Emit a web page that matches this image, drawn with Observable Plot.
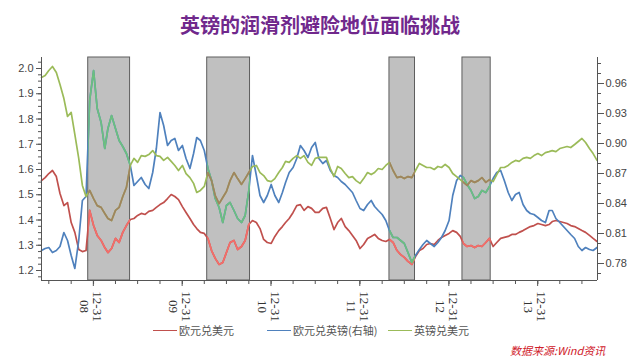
<!DOCTYPE html>
<html><head><meta charset="utf-8">
<script src="https://cdn.jsdelivr.net/npm/d3@7"></script>
<script src="https://cdn.jsdelivr.net/npm/@observablehq/plot@0.6"></script>
<style>
body{margin:0;background:#fff;width:640px;height:359px;overflow:hidden;position:relative;font-family:"Noto Sans CJK SC",sans-serif;}
#title{position:absolute;left:0;width:640px;top:11px;text-align:center;font-size:20px;font-weight:bold;color:#70288c;line-height:28px;}
#chart{position:absolute;left:0;top:45px;}
.lg{position:absolute;font-size:11px;color:#555;line-height:14px;white-space:nowrap;}
.sw{position:absolute;height:0;width:24px;border-top:1.6px solid;}
#src{position:absolute;left:510px;top:342px;font-size:11px;font-style:italic;color:#d0202a;white-space:nowrap;}
</style></head><body>
<div id="title">英镑的润滑剂避险地位面临挑战</div>
<div id="chart"></div>
<div id="legend"></div>
<div id="src">数据来源:Wind资讯</div>
<script>
// ---------------- data ----------------
const dates = [
"2008-06-01","2008-06-16","2008-07-01","2008-07-16","2008-08-01","2008-08-16","2008-09-01","2008-09-16","2008-10-01","2008-10-16","2008-11-01","2008-11-16","2008-12-01","2008-12-16",
"2009-01-01","2009-01-16","2009-02-01","2009-02-16","2009-03-01","2009-03-16","2009-04-01","2009-04-16","2009-05-01","2009-05-16","2009-06-01","2009-06-16","2009-07-01","2009-07-16","2009-08-01","2009-08-16","2009-09-01","2009-09-16","2009-10-01","2009-10-16","2009-11-01","2009-11-16","2009-12-01","2009-12-16",
"2010-01-01","2010-01-16","2010-02-01","2010-02-16","2010-03-01","2010-03-16","2010-04-01","2010-04-16","2010-05-01","2010-05-16","2010-06-01","2010-06-16","2010-07-01","2010-07-16","2010-08-01","2010-08-16","2010-09-01","2010-09-16","2010-10-01","2010-10-16","2010-11-01","2010-11-16","2010-12-01","2010-12-16",
"2011-01-01","2011-01-16","2011-02-01","2011-02-16","2011-03-01","2011-03-16","2011-04-01","2011-04-16","2011-05-01","2011-05-16","2011-06-01","2011-06-16","2011-07-01","2011-07-16","2011-08-01","2011-08-16","2011-09-01","2011-09-16","2011-10-01","2011-10-16","2011-11-01","2011-11-16","2011-12-01","2011-12-16",
"2012-01-01","2012-01-16","2012-02-01","2012-02-16","2012-03-01","2012-03-16","2012-04-01","2012-04-16","2012-05-01","2012-05-16","2012-06-01","2012-06-16","2012-07-01","2012-07-16","2012-08-01","2012-08-16","2012-09-01","2012-09-16","2012-10-01","2012-10-16","2012-11-01","2012-11-16","2012-12-01","2012-12-16",
"2013-01-01","2013-01-16","2013-02-01","2013-02-16","2013-03-01","2013-03-16","2013-04-01","2013-04-16","2013-05-01","2013-05-16","2013-06-01","2013-06-16","2013-07-01","2013-07-16","2013-08-01","2013-08-16","2013-09-01","2013-09-16","2013-10-01","2013-10-16","2013-11-01","2013-11-16","2013-12-01","2013-12-16",
"2014-01-01","2014-01-16","2014-02-01","2014-02-16","2014-03-01","2014-03-16","2014-04-01","2014-04-16","2014-05-01","2014-05-16","2014-06-01","2014-06-16","2014-07-01","2014-07-16","2014-08-01","2014-08-16","2014-09-01"];

// 欧元兑美元 (left axis)
const eurusd = [
1.556,1.568,1.584,1.596,1.572,1.505,1.457,1.469,1.390,1.351,1.283,1.275,1.279,
1.438,1.378,1.339,1.319,1.291,1.271,1.287,1.327,1.311,1.351,1.378,1.402,
1.406,1.418,1.426,1.422,1.434,1.438,1.450,1.461,1.469,1.485,1.501,1.493,1.481,1.453,1.430,1.406,1.382,1.366,1.351,1.347,
1.327,1.279,1.248,1.224,1.232,1.271,1.311,1.319,1.283,1.295,1.319,1.382,1.398,1.390,1.366,1.323,1.311,1.307,1.335,1.358,
1.374,1.390,1.406,1.430,1.457,1.461,1.438,1.453,1.446,1.430,1.430,1.446,1.450,1.406,1.362,1.390,1.406,1.374,1.358,1.339,
1.319,1.287,1.303,1.327,1.335,1.343,1.327,1.319,1.315,1.323,1.311,1.279,1.263,1.252,1.236,1.224,1.255,1.279,1.287,1.303,
1.307,1.303,1.319,1.331,1.339,1.347,1.358,1.351,1.335,1.307,1.295,1.299,1.291,1.299,1.295,1.311,1.327,1.295,1.311,1.327,
1.331,1.335,1.343,1.343,1.351,1.358,1.366,1.374,1.378,1.386,1.382,1.378,1.382,1.394,1.398,1.394,1.390,1.386,1.378,1.374,1.366,1.358,1.351,1.339,1.327,1.315];

// 欧元兑英镑 (right axis)
const eurgbp = [
0.793,0.795,0.796,0.791,0.793,0.797,0.811,0.803,0.788,0.775,0.803,0.843,0.847,
0.943,0.973,0.935,0.921,0.895,0.915,0.928,0.915,0.903,0.897,0.890,0.878,
0.858,0.862,0.866,0.859,0.855,0.871,0.895,0.931,0.918,0.898,0.903,0.905,0.893,0.898,0.885,0.875,0.890,0.906,0.903,0.893,
0.875,0.863,0.845,0.836,0.821,0.838,0.841,0.833,0.825,0.821,0.828,0.853,0.888,0.868,0.848,0.841,0.848,0.859,0.848,0.841,
0.851,0.861,0.871,0.876,0.885,0.898,0.893,0.886,0.896,0.901,0.885,0.880,0.883,0.873,0.868,0.866,0.862,0.859,0.855,0.851,
0.843,0.835,0.833,0.839,0.843,0.837,0.833,0.829,0.823,0.813,0.806,0.806,0.803,0.800,0.791,0.781,0.788,0.794,0.799,0.803,
0.800,0.797,0.801,0.806,0.813,0.823,0.848,0.863,0.868,0.866,0.859,0.853,0.845,0.847,0.853,0.851,0.857,0.865,0.871,0.873,
0.863,0.851,0.843,0.849,0.851,0.839,0.833,0.830,0.829,0.826,0.823,0.821,0.833,0.833,0.825,0.821,0.817,0.813,0.809,0.805,0.797,0.793,0.796,0.794,0.793,0.796];

// 英镑兑美元 (left axis)
const gbpusd = [
1.964,1.972,1.992,2.008,1.984,1.937,1.881,1.810,1.826,1.739,1.644,1.537,1.493,
1.517,1.485,1.457,1.450,1.426,1.406,1.398,1.438,1.450,1.493,1.529,1.616,
1.644,1.628,1.655,1.652,1.659,1.675,1.655,1.652,1.636,1.648,1.632,1.616,1.596,1.616,1.584,1.568,1.545,1.509,1.517,1.533,
1.588,1.556,1.497,1.465,1.489,1.513,1.556,1.588,1.564,1.541,1.564,1.588,1.612,1.616,1.588,1.576,1.556,1.552,1.564,1.588,
1.608,1.632,1.628,1.644,1.655,1.644,1.655,1.628,1.616,1.644,1.648,1.648,1.648,1.604,1.572,1.612,1.604,1.584,1.568,1.572,
1.556,1.545,1.564,1.588,1.580,1.588,1.604,1.600,1.616,1.628,1.596,1.568,1.572,1.564,1.572,1.568,1.596,1.624,1.616,1.608,
1.608,1.600,1.612,1.608,1.620,1.608,1.584,1.572,1.560,1.549,1.537,1.556,1.549,1.556,1.568,1.549,1.560,1.552,1.580,1.608,
1.608,1.616,1.628,1.636,1.632,1.644,1.648,1.644,1.655,1.663,1.655,1.667,1.671,1.675,1.671,1.683,1.687,1.691,1.687,1.699,1.711,1.723,1.707,1.683,1.663,1.636];

const seriesNames  = ["欧元兑美元", "欧元兑英镑(右轴)", "英镑兑美元"];
const seriesColors = ["#c0504d", "#4f81bd", "#9bbb59"];
const shadedColors = ["#f46e6a", "#6cc07e", "#a0835f"];

// highlighted periods
const shadeStart = ["2008-12-10", "2010-04-13", "2012-05-01", "2013-02-25"];
const shadeEnd   = ["2009-05-31", "2010-10-06", "2012-08-14", "2013-06-21"];

// axes
const leftTicks  = [1.2, 1.3, 1.4, 1.5, 1.6, 1.7, 1.8, 1.9, 2.0];
const rightTicks = [0.78, 0.81, 0.84, 0.87, 0.90, 0.93, 0.96];
const xTickDates = ["2008-12-31","2009-12-31","2010-12-31","2011-12-31","2012-12-31","2013-12-31"];
const xTickYears = ["08","09","10","11","12","13"];
const leftDomain  = [1.1604, 2.0436];
const rightDomain = [0.763, 0.986];
const xDomainStr  = ["2008-06-01", "2014-09-03"];

// ---------------- build ----------------
const parse = d3.utcParse("%Y-%m-%d");
const toLeft = d3.scaleLinear(rightDomain, leftDomain);
const D = dates.map(parse);
const xDomain = xDomainStr.map(parse);
const seriesVals = [eurusd, eurgbp.map(v => toLeft(v)), gbpusd];
const seriesRows = seriesVals.map(vals => vals.map((v, i) => ({date: D[i], v})));
const shades = shadeStart.map((s, i) => ({start: parse(s), end: parse(shadeEnd[i])}));
const xMajor = xTickDates.map(parse);
const xMinor = d3.utcMonth.every(3).range(xDomain[0], xDomain[1]);
const leftMinor = d3.range(1.175, 2.04, 0.025);
const rightMinor = d3.range(0.77, 0.985, 0.01).map(v => toLeft(v));

const W = 640, H = 275, mT = 12, mB = 40, mL = 41, mR = 43;
const axisColor = "#555";

const marks = [
  Plot.rect(shades, {x1: "start", x2: "end", fill: "#c0c0c0", stroke: "#5e5e5e", strokeWidth: 1}),
  ...seriesRows.map((rows, i) => Plot.line(rows, {x: "date", y: "v", stroke: seriesColors[i], strokeWidth: 1.7})),
  ...seriesRows.map((rows, i) => Plot.line(rows, {x: "date", y: "v", stroke: shadedColors[i], strokeWidth: 1.7})),
  Plot.ruleX(xDomain, {stroke: axisColor}),
  Plot.ruleY([leftDomain[0]], {stroke: axisColor}),
  Plot.axisY(leftMinor, {anchor: "left", tickSize: 3, tickFormat: () => "", stroke: axisColor, label: null}),
  Plot.axisY(leftTicks, {anchor: "left", tickSize: 5, tickPadding: 3, tickFormat: d3.format(".1f"), stroke: axisColor, label: null}),
  Plot.axisY(rightMinor, {anchor: "right", tickSize: 3, tickFormat: () => "", stroke: axisColor, label: null}),
  Plot.axisY(rightTicks.map(v => toLeft(v)), {anchor: "right", tickSize: 6, tickPadding: 2, tickFormat: d => d3.format(".2f")(toLeft.invert(d)), stroke: axisColor, label: null}),
  Plot.axisX(xMinor, {tickSize: 4, tickFormat: () => "", stroke: axisColor, label: null}),
  Plot.axisX(xMajor, {tickSize: 6, tickFormat: () => "", stroke: axisColor, label: null}),
  Plot.text(xMajor, {x: d => d, frameAnchor: "bottom", text: (d, i) => "12-31\n" + xTickYears[i],
    rotate: 90, dy: 26, dx: -2.5, textAnchor: "middle", lineAnchor: "middle",
    fontFamily: "Liberation Serif, DejaVu Serif, serif", fontSize: 13, fill: "#333"})
];

const plot = Plot.plot({
  width: W, height: H,
  marginTop: mT, marginBottom: mB, marginLeft: mL, marginRight: mR,
  x: {type: "utc", domain: xDomain, label: null},
  y: {domain: leftDomain, label: null},
  style: {background: "#fff", color: "#444", fontFamily: "Liberation Sans, Noto Sans, sans-serif", fontSize: "11px", overflow: "visible"},
  marks
});
document.getElementById("chart").appendChild(plot);

// clip the highlighted-period colouring to the grey bands
const xs = plot.scale("x");
const ns = "http://www.w3.org/2000/svg";
const defs = document.createElementNS(ns, "defs");
const cp = document.createElementNS(ns, "clipPath");
cp.setAttribute("id", "shadeClip");
shades.forEach(s => {
  const r = document.createElementNS(ns, "rect");
  const x1 = xs.apply(s.start), x2 = xs.apply(s.end);
  r.setAttribute("x", x1); r.setAttribute("width", x2 - x1);
  r.setAttribute("y", mT); r.setAttribute("height", H - mT - mB);
  cp.appendChild(r);
});
defs.appendChild(cp);
plot.insertBefore(defs, plot.firstChild);
const lineGroups = plot.querySelectorAll('g[aria-label="line"]');
for (let i = 3; i < lineGroups.length; i++) lineGroups[i].setAttribute("clip-path", "url(#shadeClip)");

// legend
const legendX = [153, 267, 388];
const lg = document.getElementById("legend");
seriesNames.forEach((n, i) => {
  const sw = document.createElement("div");
  sw.className = "sw";
  sw.style.left = legendX[i] + "px"; sw.style.top = "330px"; sw.style.borderTopColor = seriesColors[i];
  lg.appendChild(sw);
  const t = document.createElement("div");
  t.className = "lg";
  t.style.left = (legendX[i] + 26) + "px"; t.style.top = "323px";
  t.textContent = n;
  lg.appendChild(t);
});
</script>
</body></html>
